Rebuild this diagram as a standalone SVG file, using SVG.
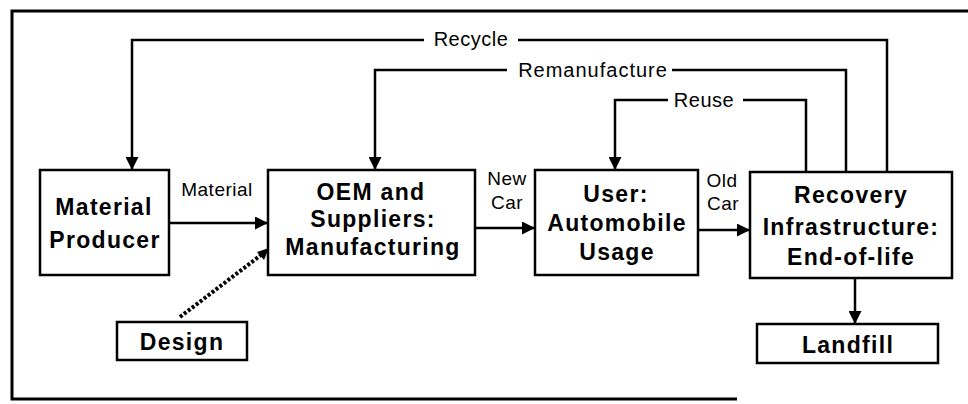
<svg xmlns="http://www.w3.org/2000/svg" width="968" height="404" viewBox="0 0 968 404">
<defs>
<marker id="ah" markerWidth="13" markerHeight="13" viewBox="0 0 13 13" refX="12" refY="6.5" orient="auto" markerUnits="userSpaceOnUse">
<path d="M0,0 L13,6.5 L0,13 Z" fill="#000"/>
</marker>
<style>
.box{fill:#fff;stroke:#000;stroke-width:2.5}
.bt{font-family:"Liberation Sans",Arial,sans-serif;font-weight:bold;font-size:23px;letter-spacing:1.3px;text-anchor:middle;fill:#000}
.lb{font-family:"Liberation Sans",Arial,sans-serif;font-size:20px;letter-spacing:0.5px;text-anchor:middle;fill:#000}
.ln{fill:none;stroke:#000;stroke-width:2.5}
.frame{fill:none;stroke:#000;stroke-width:3}
</style>
</defs>
<rect width="968" height="404" fill="#fff"/>
<path class="frame" d="M968,11 H12 V399 H737"/>

<g id="connectors">
<path class="ln" d="M424,40 H132 V169" marker-end="url(#ah)"/>
<path class="ln" d="M518,40 H887 V172"/>
<path class="ln" d="M507,70 H375 V169" marker-end="url(#ah)"/>
<path class="ln" d="M672,70 H846 V172"/>
<path class="ln" d="M668,100 H615 V169" marker-end="url(#ah)"/>
<path class="ln" d="M743,100 H806 V172"/>
<path class="ln" d="M169,223 H267" marker-end="url(#ah)"/>
<path class="ln" d="M475,228 H534" marker-end="url(#ah)"/>
<path class="ln" d="M698,230 H749" marker-end="url(#ah)"/>
<path class="ln" d="M855,278 V323" marker-end="url(#ah)"/>
<path d="M180,317 L261,255" fill="none" stroke="#000" stroke-width="4" stroke-dasharray="3 2"/>
<path d="M257,252 L269,248 L264,260 Z" fill="#000"/>
<text class="lb" x="471" y="46">Recycle</text>
<text class="lb" x="593" y="77" style="letter-spacing:1px">Remanufacture</text>
<text class="lb" x="704" y="107">Reuse</text>
<text class="lb" x="217" y="196" style="font-size:19px">Material</text>
<text class="lb" x="507" y="185" style="font-size:19px">New</text>
<text class="lb" x="507" y="209" style="font-size:19px">Car</text>
<text class="lb" x="722" y="187" style="font-size:19px">Old</text>
<text class="lb" x="723" y="210" style="font-size:19px">Car</text>
</g>

<g id="material-producer">
<rect class="box" x="40" y="170" width="129" height="105"/>
<text class="bt" x="104" y="215">Material</text>
<text class="bt" x="105" y="248">Producer</text>
</g>

<g id="oem">
<rect class="box" x="268" y="170" width="207" height="105"/>
<text class="bt" x="371" y="200">OEM and</text>
<text class="bt" x="373" y="227">Suppliers:</text>
<text class="bt" x="373" y="255">Manufacturing</text>
</g>

<g id="user">
<rect class="box" x="535" y="170" width="163" height="105"/>
<text class="bt" x="616" y="202">User:</text>
<text class="bt" x="617" y="231">Automobile</text>
<text class="bt" x="617" y="260">Usage</text>
</g>

<g id="recovery">
<rect class="box" x="750" y="172" width="202" height="106"/>
<text class="bt" x="851" y="203">Recovery</text>
<text class="bt" x="851" y="235">Infrastructure:</text>
<text class="bt" x="851" y="265">End-of-life</text>
</g>

<g id="design">
<rect class="box" x="117" y="322" width="130" height="38"/>
<text class="bt" x="182" y="350">Design</text>
</g>

<g id="landfill">
<rect class="box" x="757" y="324" width="181" height="39"/>
<text class="bt" x="848" y="353">Landfill</text>
</g>
</svg>
